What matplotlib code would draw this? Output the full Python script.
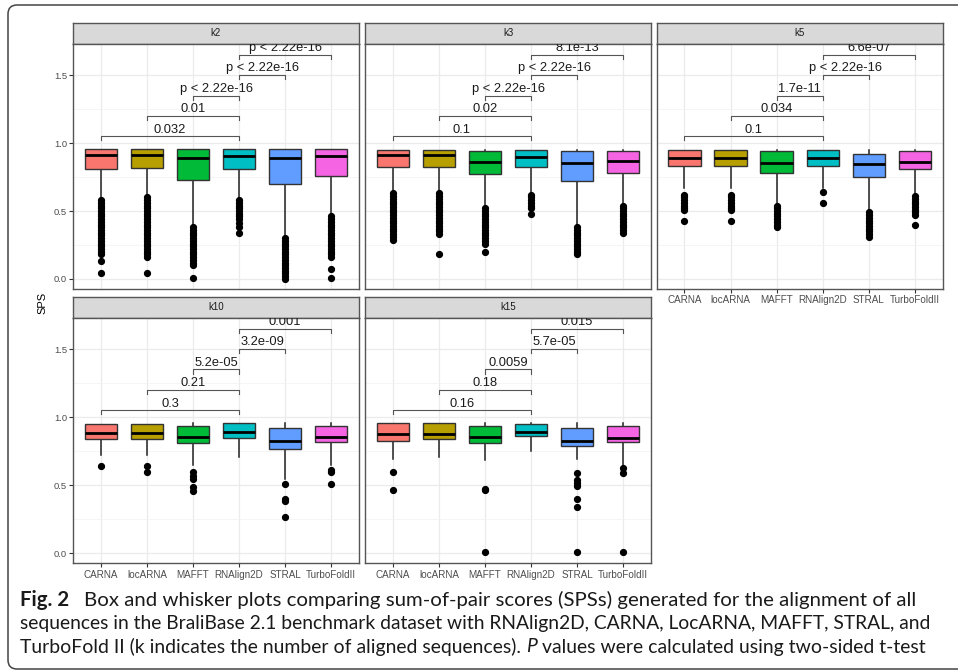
import matplotlib
matplotlib.use('Agg')
import matplotlib.pyplot as plt
from matplotlib.patches import FancyBboxPatch, Rectangle

# methods and colours (ggplot default hue)
methods = ['CARNA', 'locARNA', 'MAFFT', 'RNAlign2D', 'STRAL', 'TurboFoldII']
colors = ['#F8766D', '#B79F00', '#00BA38', '#00BFC4', '#619CFF', '#F564E3']
panels = ['k2', 'k3', 'k5', 'k10', 'k15']

# box stats per panel: (q1, median, q3, whislo, whishi) for each method
k2_box = [(0.81, 0.914, 0.96, 0.59, 0.96), (0.82, 0.914, 0.96, 0.61, 0.96),
          (0.73, 0.89, 0.96, 0.39, 0.96), (0.81, 0.904, 0.96, 0.59, 0.96),
          (0.70, 0.89, 0.96, 0.31, 0.96), (0.76, 0.904, 0.96, 0.47, 0.96)]
k3_box = [(0.823, 0.909, 0.953, 0.64, 0.953), (0.823, 0.909, 0.953, 0.64, 0.953),
          (0.773, 0.86, 0.94, 0.53, 0.953), (0.823, 0.897, 0.953, 0.64, 0.953),
          (0.72, 0.852, 0.94, 0.39, 0.953), (0.78, 0.872, 0.94, 0.55, 0.953)]
k5_box = [(0.83, 0.894, 0.953, 0.67, 0.953), (0.83, 0.894, 0.953, 0.67, 0.953),
          (0.778, 0.852, 0.94, 0.554, 0.953), (0.83, 0.894, 0.953, 0.67, 0.953),
          (0.75, 0.845, 0.92, 0.505, 0.953), (0.81, 0.862, 0.94, 0.62, 0.953)]
k10_box = [(0.837, 0.883, 0.951, 0.72, 0.951), (0.837, 0.883, 0.951, 0.72, 0.951),
           (0.81, 0.854, 0.939, 0.646, 0.956), (0.849, 0.89, 0.958, 0.707, 0.958),
           (0.768, 0.829, 0.922, 0.55, 0.956), (0.817, 0.854, 0.939, 0.646, 0.956)]
k15_box = [(0.827, 0.878, 0.958, 0.695, 0.958), (0.837, 0.878, 0.958, 0.707, 0.958),
           (0.81, 0.854, 0.939, 0.683, 0.956), (0.861, 0.893, 0.949, 0.751, 0.958),
           (0.788, 0.829, 0.922, 0.695, 0.956), (0.817, 0.844, 0.939, 0.634, 0.956)]

# outliers per panel and method
k2_out = [[0.58, 0.56, 0.54, 0.52, 0.50, 0.48, 0.46, 0.44, 0.42, 0.40, 0.38, 0.36, 0.34,
           0.32, 0.30, 0.28, 0.26, 0.24, 0.22, 0.20, 0.18, 0.13, 0.04],
          [0.60, 0.58, 0.56, 0.54, 0.52, 0.50, 0.48, 0.46, 0.44, 0.42, 0.40, 0.38, 0.36,
           0.34, 0.32, 0.30, 0.28, 0.26, 0.24, 0.22, 0.20, 0.18, 0.16, 0.04],
          [0.38, 0.36, 0.34, 0.32, 0.30, 0.28, 0.26, 0.24, 0.22, 0.20, 0.18, 0.16, 0.14,
           0.12, 0.10, 0.01],
          [0.58, 0.56, 0.54, 0.52, 0.50, 0.48, 0.46, 0.44, 0.41, 0.38, 0.34],
          [0.30, 0.28, 0.26, 0.24, 0.22, 0.20, 0.18, 0.16, 0.14, 0.12, 0.10, 0.08, 0.06,
           0.04, 0.02, 0.00],
          [0.46, 0.44, 0.42, 0.40, 0.38, 0.36, 0.34, 0.32, 0.30, 0.28, 0.26, 0.24, 0.22,
           0.20, 0.18, 0.16, 0.07, 0.01]]
k3_out = [[0.63, 0.61, 0.59, 0.57, 0.55, 0.53, 0.51, 0.49, 0.47, 0.45, 0.43, 0.41, 0.39,
           0.37, 0.35, 0.33, 0.31, 0.29],
          [0.63, 0.61, 0.59, 0.57, 0.55, 0.53, 0.51, 0.49, 0.47, 0.45, 0.43, 0.41, 0.39,
           0.37, 0.35, 0.33, 0.18],
          [0.52, 0.50, 0.48, 0.46, 0.44, 0.42, 0.40, 0.38, 0.36, 0.34, 0.32, 0.30, 0.28,
           0.26, 0.20],
          [0.62, 0.60, 0.58, 0.56, 0.54, 0.52, 0.48],
          [0.38, 0.36, 0.34, 0.32, 0.30, 0.28, 0.26, 0.24, 0.22, 0.20, 0.18],
          [0.54, 0.52, 0.50, 0.48, 0.46, 0.44, 0.42, 0.40, 0.38, 0.36, 0.34]]
k5_out = [[0.62, 0.60, 0.58, 0.56, 0.54, 0.52, 0.505, 0.43],
          [0.62, 0.60, 0.58, 0.56, 0.54, 0.52, 0.505, 0.43],
          [0.54, 0.52, 0.50, 0.48, 0.46, 0.44, 0.42, 0.40, 0.38],
          [0.64, 0.56],
          [0.49, 0.47, 0.45, 0.43, 0.41, 0.39, 0.37, 0.35, 0.33, 0.31],
          [0.61, 0.59, 0.57, 0.55, 0.53, 0.51, 0.49, 0.47, 0.40]]
k10_out = [[0.64], [0.64, 0.60], [0.60, 0.57, 0.55, 0.49, 0.46], [],
           [0.507, 0.40, 0.385, 0.27], [0.61, 0.60, 0.507]]
k15_out = [[0.598, 0.463], [], [0.47, 0.465, 0.012], [],
           [0.59, 0.537, 0.52, 0.495, 0.40, 0.34, 0.012], [0.63, 0.59, 0.012]]

# pairwise test labels vs RNAlign2D: CARNA, locARNA, MAFFT, STRAL, TurboFoldII
k2_p = ['0.032', '0.01', 'p < 2.22e-16', 'p < 2.22e-16', 'p < 2.22e-16']
k3_p = ['0.1', '0.02', 'p < 2.22e-16', 'p < 2.22e-16', '8.1e-13']
k5_p = ['0.1', '0.034', '1.7e-11', 'p < 2.22e-16', '6.6e-07']
k10_p = ['0.3', '0.21', '5.2e-05', '3.2e-09', '0.001']
k15_p = ['0.16', '0.18', '0.0059', '5.7e-05', '0.015']

boxes = [k2_box, k3_box, k5_box, k10_box, k15_box]
outs = [k2_out, k3_out, k5_out, k10_out, k15_out]
pvals = [k2_p, k3_p, k5_p, k10_p, k15_p]
pairs = [(1, 4), (2, 4), (3, 4), (4, 5), (4, 6)]
bracket_y = [1.05, 1.2, 1.35, 1.5, 1.65]

W, H = 958, 671
plt.rcParams['font.family'] = ['Liberation Sans', 'DejaVu Sans']
fig = plt.figure(figsize=(W / 100, H / 100), dpi=100)

# background axes in pixel units, for the rounded frame
bg = fig.add_axes([0, 0, 1, 1])
bg.set_xlim(0, W)
bg.set_ylim(H, 0)
bg.axis('off')
bg.add_patch(FancyBboxPatch((8, 5), 1100, 664, boxstyle='round,pad=0,rounding_size=9',
                            facecolor='none', edgecolor='#444444', linewidth=1.1))


def px_axes(x0, y0, x1, y1):
    return fig.add_axes([x0 / W, 1 - y1 / H, (x1 - x0) / W, (y1 - y0) / H])


cols = [(73.3, 358.7), (365.3, 650.7), (656.7, 942.7)]
rows = [(22.7, 44.0, 288.7), (296.7, 317.7, 563.3)]
where = [(0, 0), (0, 1), (0, 2), (1, 0), (1, 1)]

for i, name in enumerate(panels):
    r, c = where[i]
    x0, x1 = cols[c]
    s0, s1, p1 = rows[r]

    # strip
    sax = px_axes(x0, s0, x1, s1)
    sax.set_xlim(0, 1)
    sax.set_ylim(0, 1)
    sax.add_patch(Rectangle((0, 0), 1, 1, facecolor='#D9D9D9', edgecolor='none'))
    sax.text(0.5, 0.5, name, ha='center', va='center', fontsize=7, color='#1A1A1A')
    for sp in sax.spines.values():
        sp.set_color('#555555')
        sp.set_linewidth(1.0)
    sax.set_xticks([])
    sax.set_yticks([])

    ax = px_axes(x0, s1, x1, p1)
    stats = []
    for j, (q1, med, q3, lo, hi) in enumerate(boxes[i]):
        stats.append(dict(med=med, q1=q1, q3=q3, whislo=lo, whishi=hi,
                          fliers=outs[i][j], label=methods[j]))
    bp = ax.bxp(stats, positions=range(1, 7), widths=0.7, patch_artist=True,
                showcaps=False,
                boxprops=dict(edgecolor='#333333', linewidth=1.0),
                medianprops=dict(color='black', linewidth=2.0),
                whiskerprops=dict(color='#222222', linewidth=1.1),
                flierprops=dict(marker='o', markerfacecolor='black',
                                markeredgecolor='black', markersize=4.2))
    for patch, col in zip(bp['boxes'], colors):
        patch.set_facecolor(col)
        patch.set_zorder(3)
    for m in bp['medians']:
        m.set_zorder(4)

    # significance brackets
    for (a, b), yb, lab in zip(pairs, bracket_y, pvals[i]):
        ax.plot([a, a, b, b], [yb - 0.03, yb, yb, yb - 0.03], color='#555555',
                linewidth=0.8, zorder=5)
        ax.text((a + b) / 2, yb + 0.006, lab, ha='center', va='bottom', fontsize=9.3,
                color='#1A1A1A', clip_on=True, zorder=6)

    ax.set_xlim(0.4, 6.6)
    ax.set_ylim(-0.072, 1.73)
    ax.set_yticks([0.0, 0.5, 1.0, 1.5])
    ax.set_yticks([0.25, 0.75, 1.25], minor=True)
    ax.set_xticks(range(1, 7))
    ax.grid(True, which='major', color='#EBEBEB', linewidth=0.9, zorder=0)
    ax.grid(True, which='minor', axis='y', color='#F2F2F2', linewidth=0.5, zorder=0)
    ax.set_axisbelow(True)
    for sp in ax.spines.values():
        sp.set_color('#555555')
        sp.set_linewidth(1.0)
    ax.tick_params(which='minor', left=False)
    ax.tick_params(axis='both', colors='#333333', labelcolor='#4D4D4D', labelsize=6.8,
                   length=3, width=0.8, pad=1.5)
    if c == 0:
        ax.set_yticklabels(['0.0', '0.5', '1.0', '1.5'])
    else:
        ax.tick_params(axis='y', left=False, labelleft=False)
    if name in ('k5', 'k10', 'k15'):
        ax.set_xticklabels(methods, fontsize=7.1)
    else:
        ax.tick_params(axis='x', bottom=False, labelbottom=False)

fig.text(42 / W, 1 - 303 / H, 'SPS', rotation=90, ha='center', va='center',
         fontsize=8, color='black')

# caption, each line fitted to the width it takes in the source
cap_font = ['Lato', 'DejaVu Sans']
base = 12.2
lines = ['Box and whisker plots comparing sum-of-pair scores (SPSs) generated for the alignment of all',
         'sequences in the BraliBase 2.1 benchmark dataset with RNAlign2D, CARNA, LocARNA, MAFFT, STRAL, and',
         'TurboFold II (k indicates the number of aligned sequences). ',
         'P',
         ' values were calculated using two-sided t-test']
renderer = fig.canvas.get_renderer()
ys = [1 - 600 / H, 1 - 624 / H, 1 - 647 / H]
x_cap = 20 / W
ink = '#1A1A1A'


def width_px(txt, size, **kw):
    t = fig.text(0, 0, txt, fontsize=size, family=cap_font, **kw)
    w = t.get_window_extent(renderer).width
    t.remove()
    return w


# line 1: bold label + text ending near x=915
s1 = base * 831 / width_px(lines[0], base)
t0 = fig.text(x_cap, ys[0], 'Fig. 2', fontsize=s1, fontweight='bold', family=cap_font,
              va='center', ha='left', color=ink)
fig.text(84 / W, ys[0], lines[0], fontsize=s1, family=cap_font, va='center', ha='left',
         color=ink)
# line 2
s2 = base * 910 / width_px(lines[1], base)
fig.text(x_cap, ys[1], lines[1], fontsize=s2, family=cap_font, va='center', ha='left',
         color=ink)
# line 3 with italic P
w3 = (width_px(lines[2], base) + width_px(lines[3], base, style='italic')
      + width_px(lines[4], base))
s3 = base * 908 / w3
t2 = fig.text(x_cap, ys[2], lines[2], fontsize=s3, family=cap_font, va='center',
              ha='left', color=ink)
bb = t2.get_window_extent(renderer)
t3 = fig.text(bb.x1 / W, ys[2], lines[3], fontsize=s3, family=cap_font, style='italic',
              va='center', ha='left', color=ink)
bb = t3.get_window_extent(renderer)
fig.text(bb.x1 / W, ys[2], lines[4], fontsize=s3, family=cap_font, va='center',
         ha='left', color=ink)

fig.savefig('out.png', dpi=100)
